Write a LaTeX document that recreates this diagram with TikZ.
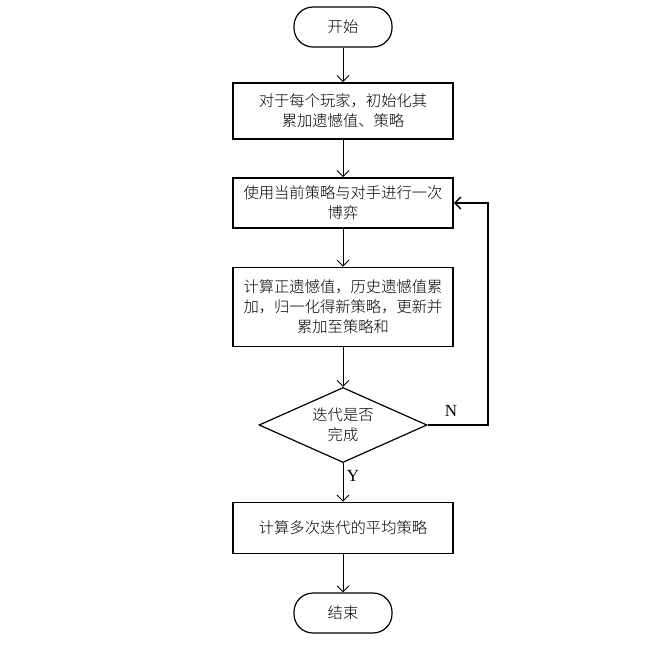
\documentclass[tikz,border=0pt]{standalone}
\usepackage{fontspec}
\setmainfont{Liberation Serif}
\newfontfamily\cjk{Noto Sans CJK SC Light}
\usetikzlibrary{arrows.meta,shapes.geometric}
\begin{document}
\begin{tikzpicture}[x=1pt,y=-1pt,
  box/.style={draw,line width=1.8pt,minimum width=220pt,align=center,font=\cjk\fontsize{15.3}{20}\selectfont,inner sep=0pt},
  term/.style={draw,line width=1.2pt,rounded corners=19pt,minimum width=98pt,minimum height=40pt,font=\cjk\fontsize{15.3}{20}\selectfont},
  dec/.style={draw,line width=1.2pt,diamond,aspect=2.25,minimum width=168pt,minimum height=75pt,align=center,inner sep=0pt,font=\cjk\fontsize{15.3}{20}\selectfont},
  arr/.style={-{Straight Barb[length=6pt,width=12pt]},line width=0.9pt},
  lab/.style={font=\fontsize{17}{18}\selectfont}]
\useasboundingbox (0,0) rectangle (660,649);
\node[term] (start) at (343,27) {开始};
\node[box,minimum height=56pt] (b1) at (343,111) {对于每个玩家，初始化其\\累加遗憾值、策略};
\node[box,minimum height=50pt] (b2) at (343,203) {使用当前策略与对手进行一次\\博弈};
\node[box,minimum height=79pt] (b3) at (343,307) {计算正遗憾值，历史遗憾值累\\加，归一化得新策略，更新并\\累加至策略和};
\node[dec] (d) at (343,425) {迭代是否\\完成};
\node[box,minimum height=51pt] (b4) at (343,528) {计算多次迭代的平均策略};
\node[term] (end) at (343,613) {结束};
\coordinate (c1) at (488,425);
\coordinate (c2) at (488,203);
\draw[arr] (start) -- (b1);
\draw[arr] (b1) -- (b2);
\draw[arr] (b2) -- (b3);
\draw[arr] (b3) -- (d);
\draw[arr] (d) -- (b4);
\draw[arr] (b4) -- (end);
\draw[arr,line width=1.4pt] (d.east) -- (c1) -- (c2) -- (b2.east);
\node[lab] (n) at (451,411) {N};
\node[lab] (y) at (353,476) {Y};
\end{tikzpicture}
\end{document}
